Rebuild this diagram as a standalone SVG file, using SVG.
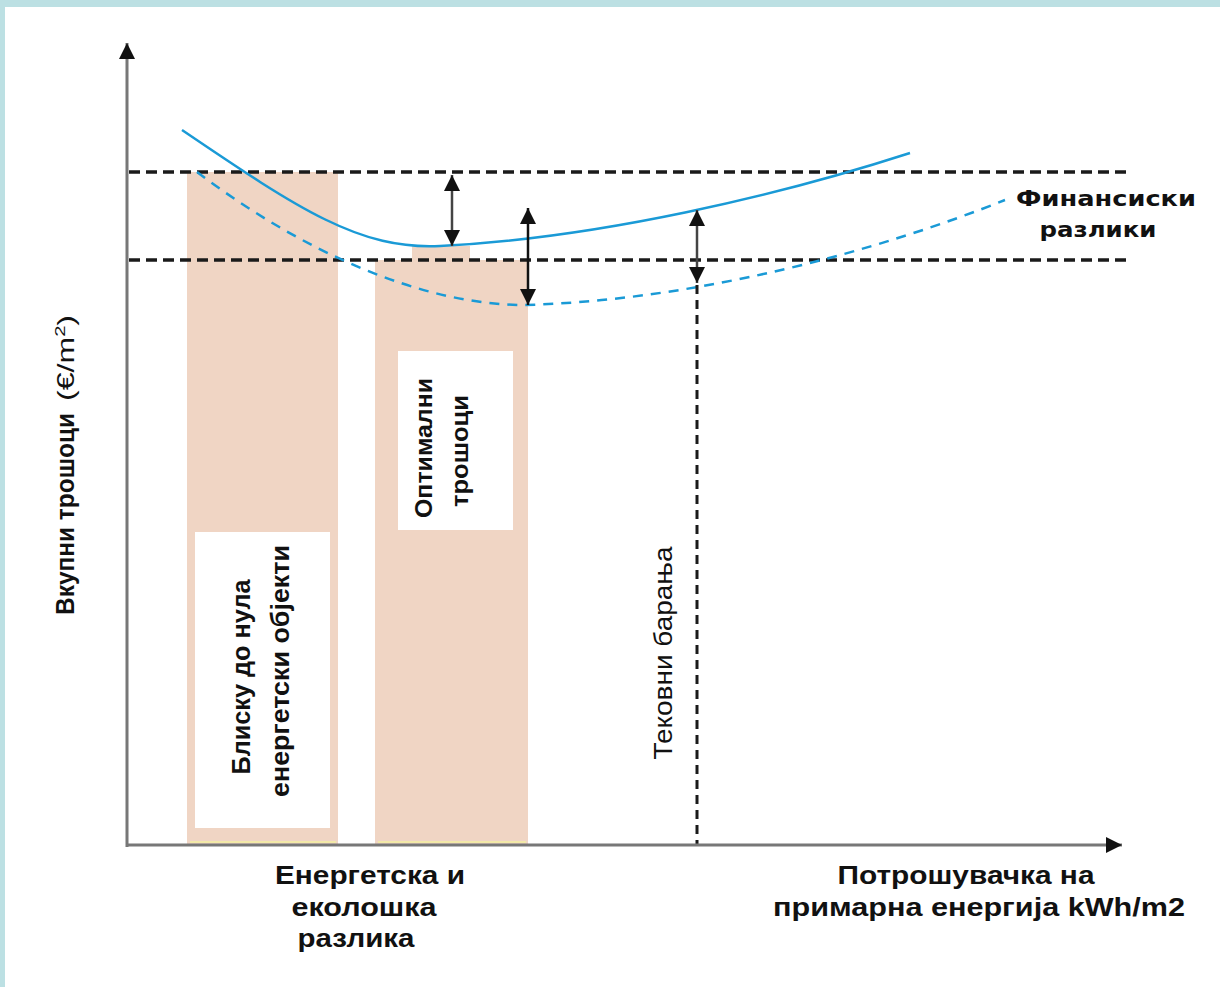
<svg xmlns="http://www.w3.org/2000/svg" width="1220" height="987" viewBox="0 0 1220 987">
<style>
.bg{fill:#ffffff}
.frame{fill:#BCE0E3}
.peach{fill:#F0D5C4}
.box{fill:#ffffff}
.axis{stroke:#777777;stroke-width:3;fill:none}
.hdash{stroke:#1a1a1a;stroke-width:3.5;stroke-dasharray:11 6;fill:none}
.vdash{stroke:#1a1a1a;stroke-width:3;stroke-dasharray:9 6;fill:none}
.curve{stroke:#1A9AD6;stroke-width:2.5;fill:none}
.curved{stroke:#1A9AD6;stroke-width:2.5;stroke-dasharray:10 8;fill:none}
.darrow{stroke:#444444;stroke-width:2.5;fill:none}
.t{font-family:"Liberation Sans",Arial,sans-serif;fill:#111111;font-weight:bold}
.tn{font-family:"Liberation Sans",Arial,sans-serif;fill:#111111;font-weight:normal}
.tw{font-family:"DejaVu Sans",Verdana,sans-serif;fill:#111111;font-weight:bold}
.yl{stroke:#F3E9A8;stroke-width:2}
</style>
<defs>
<marker id="ah" viewBox="0 0 10 10" refX="10" refY="5" markerWidth="18" markerHeight="16" markerUnits="userSpaceOnUse" orient="auto-start-reverse">
<path d="M0,0 L10,5 L0,10 z" fill="#111111"/>
</marker>
<marker id="axh" viewBox="0 0 10 10" refX="10" refY="5" markerWidth="20" markerHeight="16" markerUnits="userSpaceOnUse" orient="auto">
<path d="M0,0 L10,5 L0,10 z" fill="#111111"/>
</marker>
</defs>
<rect class="bg" x="0" y="0" width="1220" height="987"/>
<rect class="frame" x="0" y="0" width="1220" height="7"/>
<rect class="frame" x="0" y="0" width="5" height="987"/>

<g id="band-nzeb">
<rect class="peach" x="187" y="172" width="151" height="673"/>
<line class="yl" x1="190" y1="842" x2="336" y2="842"/>
<rect class="box" x="195" y="532" width="135" height="296"/>
<text class="t" font-size="26" transform="translate(250,677) rotate(-90)" text-anchor="middle" textLength="195" lengthAdjust="spacingAndGlyphs">Блиску до нула</text>
<text class="t" font-size="26" transform="translate(289,671) rotate(-90)" text-anchor="middle" textLength="252" lengthAdjust="spacingAndGlyphs">енергетски објекти</text>
</g>

<g id="band-optimal">
<rect class="peach" x="375" y="260" width="153" height="585"/>
<rect class="peach" x="412" y="246" width="58" height="14"/>
<line class="yl" x1="378" y1="842" x2="526" y2="842"/>
<rect class="box" x="398" y="351" width="115" height="179"/>
<text class="t" font-size="23" transform="translate(432,448) rotate(-90)" text-anchor="middle" textLength="140" lengthAdjust="spacingAndGlyphs">Оптимални</text>
<text class="t" font-size="23" transform="translate(468,451) rotate(-90)" text-anchor="middle" textLength="112" lengthAdjust="spacingAndGlyphs">трошоци</text>
</g>

<g id="connectors">
<line class="hdash" x1="129" y1="172" x2="1132" y2="172"/>
<line class="hdash" x1="129" y1="260" x2="1132" y2="260"/>
<path class="curved" d="M197,172 C300,250 420,305 525,305 C700,300 880,250 1005,200"/>
<path class="curve" d="M182,130 C300,210 360,250 440,246 C600,238 780,195 910,153"/>
<line class="vdash" x1="697" y1="285" x2="697" y2="845"/>
<line class="axis" x1="127" y1="847" x2="127" y2="43" marker-end="url(#axh)"/>
<line class="axis" x1="126" y1="845" x2="1122" y2="845" marker-end="url(#axh)"/>
<line class="darrow" x1="452" y1="175" x2="452" y2="246" marker-start="url(#ah)" marker-end="url(#ah)"/>
<line class="darrow" style="stroke:#111111" x1="528" y1="208" x2="528" y2="305" marker-start="url(#ah)" marker-end="url(#ah)"/>
<line class="darrow" x1="697" y1="210" x2="697" y2="283" marker-start="url(#ah)" marker-end="url(#ah)"/>
</g>

<g id="label-current">
<text class="tn" font-size="26" transform="translate(672,653) rotate(-90)" text-anchor="middle" textLength="213" lengthAdjust="spacingAndGlyphs">Тековни барања</text>
</g>

<g id="label-yaxis">
<text class="t" font-size="25" transform="translate(74,615) rotate(-90)" text-anchor="start" textLength="202" lengthAdjust="spacingAndGlyphs">Вкупни трошоци</text>
<text class="tn" font-size="24" transform="translate(74,401) rotate(-90)" text-anchor="start" textLength="86" lengthAdjust="spacingAndGlyphs">(€/m<tspan font-size="15" dy="-9">2</tspan><tspan dy="9">)</tspan></text>
</g>

<g id="label-financial">
<text class="tw" font-size="22" x="1106" y="206" text-anchor="middle" textLength="180" lengthAdjust="spacingAndGlyphs">Финансиски</text>
<text class="tw" font-size="22" x="1098" y="237" text-anchor="middle" textLength="117" lengthAdjust="spacingAndGlyphs">разлики</text>
</g>

<g id="label-energy-gap">
<text class="t" font-size="25" x="370" y="884" text-anchor="middle" textLength="190" lengthAdjust="spacingAndGlyphs">Енергетска и</text>
<text class="t" font-size="25" x="364" y="916" text-anchor="middle" textLength="145" lengthAdjust="spacingAndGlyphs">еколошка</text>
<text class="t" font-size="25" x="356" y="947" text-anchor="middle" textLength="117" lengthAdjust="spacingAndGlyphs">разлика</text>
</g>

<g id="label-xaxis">
<text class="t" font-size="25" x="966" y="884" text-anchor="middle" textLength="257" lengthAdjust="spacingAndGlyphs">Потрошувачка на</text>
<text class="t" font-size="25" x="979" y="916" text-anchor="middle" textLength="412" lengthAdjust="spacingAndGlyphs">примарна енергија kWh/m2</text>
</g>
</svg>
